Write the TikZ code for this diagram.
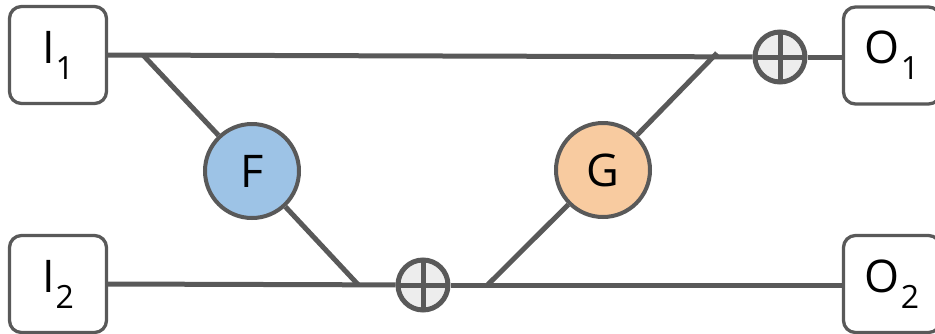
\documentclass[tikz,border=0pt]{standalone}
\usepackage{fontspec}
\setmainfont{Open Sans}
\definecolor{lc}{HTML}{595959}
\definecolor{ffill}{HTML}{9DC3E6}
\definecolor{gfill}{HTML}{F8CBA0}
\definecolor{pfill}{HTML}{EDEDED}
\newcommand{\lbl}[2]{\fontsize{45}{45}\selectfont #1\hspace{1pt}\raisebox{-16pt}{\fontsize{32}{32}\selectfont #2}}
\tikzset{
  iobox/.style={draw=lc, line width=3.3pt, rounded corners=12pt, fill=white,
    minimum width=97pt, minimum height=97pt, inner sep=0pt, text=black},
  fnode/.style={circle, draw=lc, line width=4pt, minimum size=94pt, inner sep=0pt,
    font=\fontsize{45}{45}\selectfont, text=black},
  plusnode/.style={circle, draw=lc, fill=pfill, line width=5pt, minimum size=50pt, inner sep=0pt,
    path picture={\draw[lc, line width=5pt] (path picture bounding box.north) -- (path picture bounding box.south);
                  \draw[lc, line width=5pt] (path picture bounding box.west) -- (path picture bounding box.east);}},
  conn/.style={draw=lc, line width=5pt}
}
\begin{document}
\begin{tikzpicture}[x=1pt, y=-1pt]
\useasboundingbox (0,0) rectangle (935,333);
\clip (0,0) rectangle (935,333);
% nodes
\node[iobox] (I1) at (58,55) {\lbl{I}{1}};
\node[iobox] (I2) at (58,284) {\lbl{I}{2}};
\node[iobox] (O1) at (892,55.5) {\lbl{O}{1}};
\node[iobox] (O2) at (892,284) {\lbl{O}{2}};
\node[fnode, fill=ffill] (F) at (252,171) {F};
\node[fnode, fill=gfill] (G) at (603,170) {G};
\node[plusnode] (P1) at (780,57) {};
\node[plusnode] (P2) at (423,285) {};
% junction coordinates
\coordinate (fa) at (143,55);
\coordinate (fb) at (358,284.5);
\coordinate (ga) at (488,284.5);
\coordinate (gb) at (717,53);
% connectors
\draw[conn] (I1.east) -- (P1);
\draw[conn] (P1) -- (O1.west |- P1);
\draw[conn] (I2.east) -- (P2);
\draw[conn] (P2) -- (O2.west |- P2);
\draw[conn] (fa) -- (F);
\draw[conn] (F) -- (fb);
\draw[conn] (ga) -- (G);
\draw[conn] (G) -- (gb);
\end{tikzpicture}
\end{document}
